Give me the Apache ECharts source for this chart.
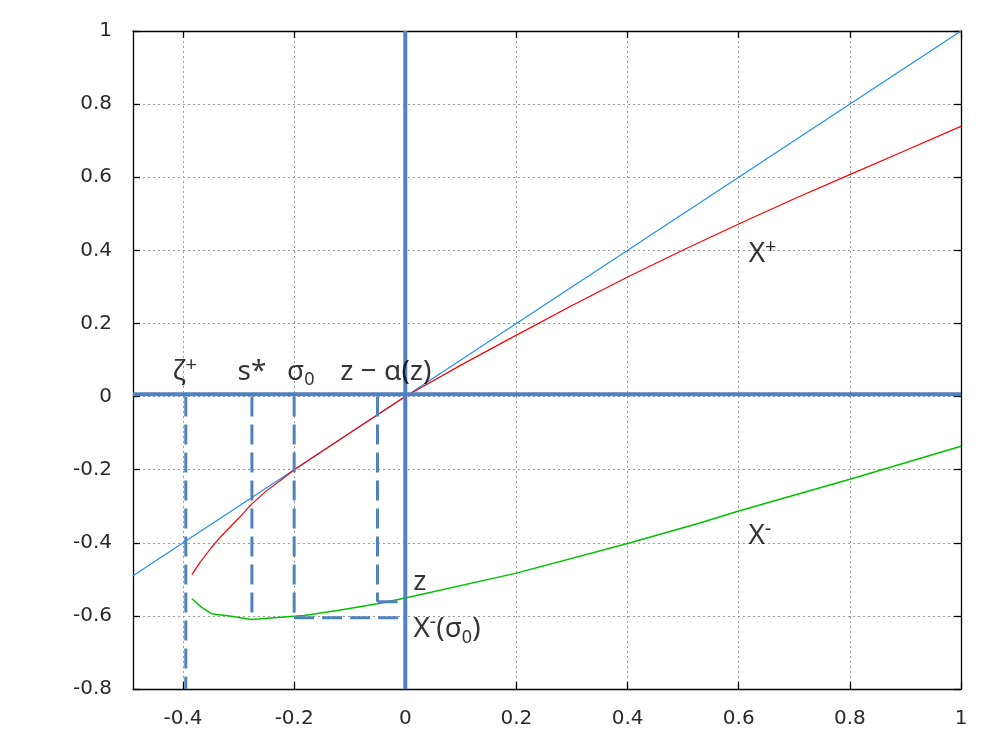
<!DOCTYPE html>
<html>
<head>
<meta charset="utf-8">
<script src="https://cdn.jsdelivr.net/npm/echarts@6/dist/echarts.min.js"></script>
<style>html,body{margin:0;padding:0;background:#fff}#c{width:1000px;height:750px}</style>
</head>
<body>
<div id="c"></div>
<script>
// ---- data ----
const xTickValues = [-0.4, -0.2, 0, 0.2, 0.4, 0.6, 0.8, 1];
const yTickValues = [-0.8, -0.6, -0.4, -0.2, 0, 0.2, 0.4, 0.6, 0.8, 1];

const blueX = [-0.49, 0, 1];
const blueY = [-0.49, 0, 1];

const redX = [-0.384, -0.37, -0.35, -0.33, -0.30, -0.277, -0.25, -0.22, -0.2, -0.1, 0, 0.1, 0.2, 0.3, 0.4, 0.5, 0.6, 0.7, 0.8, 0.9, 1.0];
const redY = [-0.487, -0.455, -0.415, -0.380, -0.333, -0.295, -0.258, -0.224, -0.2, -0.1, 0, 0.086, 0.168, 0.249, 0.327, 0.401, 0.472, 0.541, 0.607, 0.673, 0.739];

const greenX = [-0.384, -0.367, -0.349, -0.313, -0.277, -0.218, -0.182, -0.122, -0.05, 0, 0.2, 0.4, 0.53, 0.6, 0.8, 1.0];
const greenY = [-0.553, -0.576, -0.594, -0.601, -0.610, -0.603, -0.599, -0.585, -0.567, -0.551, -0.483, -0.402, -0.346, -0.313, -0.226, -0.136];

// annotation geometry (data units)
const zetaPlus = -0.395, sStar = -0.276, sigma0 = -0.2, zAlpha = -0.05;
const sStarLevel = -0.608, xMinusSigma0Level = -0.605, zLevel = -0.561;
const axisLevel = 0.006;

// text annotations: [x, y, rich text]
const labelX = [-0.397, -0.276, -0.188, -0.035, 0.643, 0.638, 0.026, 0.075];
const labelY = [0.067, 0.067, 0.067, 0.067, 0.39, -0.382, -0.508, -0.637];
const labelText = ['{m|ζ}{sup|+}', '{m|s*}', '{m|σ}{sub|0}', '{m|z − α(z)}', '{m|X}{sup|+}', '{m|X}{sup|-}', '{m|z}', '{m|X}{sup|-}{m|(σ}{sub|0}{m|)}'];

// ---- chart ----
const zip = (a, b) => a.map((v, i) => [v, b[i]]);
const annColor = '#4F81BD';
const xMin = -0.49, xMax = 1, yMin = -0.8, yMax = 1;

const chart = echarts.init(document.getElementById('c'), null, {renderer: 'canvas'});

const labelFont = '"Noto Sans", "DejaVu Sans", sans-serif';
const tickFont = '"DejaVu Sans", sans-serif';

function lineSeries(data, color, width, type, z) {
  return {
    type: 'line', data: data, showSymbol: false, symbol: 'none', silent: true,
    lineStyle: {color: color, width: width, type: type || 'solid'},
    z: z || 2, animation: false
  };
}

const frameAxis = (pos, isX) => ({
  type: 'value', position: pos,
  min: isX ? xMin : yMin, max: isX ? xMax : yMax, interval: 0.2,
  axisLine: {show: true, onZero: false, lineStyle: {color: '#000', width: 1.3}},
  axisTick: {show: true, inside: true, length: 7, lineStyle: {color: '#000', width: 1.3},
    customValues: isX ? xTickValues : yTickValues},
  axisLabel: {show: false, customValues: isX ? xTickValues : yTickValues},
  splitLine: {show: false}
});

const option = {
  backgroundColor: '#fff',
  animation: false,
  grid: {left: 133, right: 39, top: 31, bottom: 61, containLabel: false},
  xAxis: [
    {
      type: 'value', position: 'bottom', min: xMin, max: xMax, interval: 0.2,
      axisLine: {show: true, onZero: false, lineStyle: {color: '#000', width: 1.3}},
      axisTick: {show: true, inside: true, length: 7, lineStyle: {color: '#000', width: 1.3}, customValues: xTickValues},
      axisLabel: {show: true, customValues: xTickValues, color: '#2a2a2a', fontSize: 20, fontFamily: tickFont, margin: 20,
        formatter: v => String(Math.round(v * 10) / 10)},
      splitLine: {show: true, lineStyle: {color: '#9a9a9a', width: 1, type: [2, 3]}}
    },
    frameAxis('top', true)
  ],
  yAxis: [
    {
      type: 'value', position: 'left', min: yMin, max: yMax, interval: 0.2,
      axisLine: {show: true, onZero: false, lineStyle: {color: '#000', width: 1.3}},
      axisTick: {show: true, inside: true, length: 7, lineStyle: {color: '#000', width: 1.3}, customValues: yTickValues},
      axisLabel: {show: true, customValues: yTickValues, color: '#2a2a2a', fontSize: 20, fontFamily: tickFont, margin: 21,
        formatter: v => String(Math.round(v * 10) / 10)},
      splitLine: {show: true, lineStyle: {color: '#9a9a9a', width: 1, type: [2, 3]}}
    },
    frameAxis('right', false)
  ],
  series: [
    lineSeries(zip(blueX, blueY), '#1E8FFF', 1.2, 'solid', 3),
    lineSeries(zip(redX, redY), '#FF0000', 1.2, 'solid', 3),
    lineSeries(zip(greenX, greenY), '#00C000', 1.5, 'solid', 3),
    // thick axes through the origin
    lineSeries([[0, yMin], [0, yMax]], annColor, 4, 'solid', 5),
    lineSeries([[xMin, axisLevel], [xMax, axisLevel]], annColor, 4, 'solid', 5),
    // dashed construction lines
    lineSeries([[zetaPlus, 0], [zetaPlus, yMin]], annColor, 3, [20, 8], 4),
    lineSeries([[sStar, 0], [sStar, sStarLevel]], annColor, 3, [20, 8], 4),
    lineSeries([[sigma0, 0], [sigma0, xMinusSigma0Level]], annColor, 3, [20, 8], 4),
    lineSeries([[zAlpha, 0], [zAlpha, zLevel]], annColor, 3, [20, 8], 4),
    lineSeries([[sigma0, xMinusSigma0Level], [0, xMinusSigma0Level]], annColor, 3, [20, 8], 4),
    lineSeries([[zAlpha, zLevel], [0, zLevel]], annColor, 3, [20, 8], 4),
    {
      type: 'scatter', symbolSize: 0, silent: true, z: 10,
      data: labelX.map((x, i) => ({value: [x, labelY[i]], text: labelText[i]})),
      label: {
        show: true, position: 'inside', align: 'center', verticalAlign: 'middle',
        formatter: p => p.data.text,
        rich: {
          m: {fontFamily: labelFont, fontSize: 28, color: '#000', lineHeight: 34, verticalAlign: 'middle'},
          sup: {fontFamily: labelFont, fontSize: 20, color: '#000', lineHeight: 14, verticalAlign: 'top'},
          sub: {fontFamily: labelFont, fontSize: 18, color: '#000', lineHeight: 16, verticalAlign: 'bottom'}
        }
      }
    }
  ]
};
chart.setOption(option);
</script>
</body>
</html>
